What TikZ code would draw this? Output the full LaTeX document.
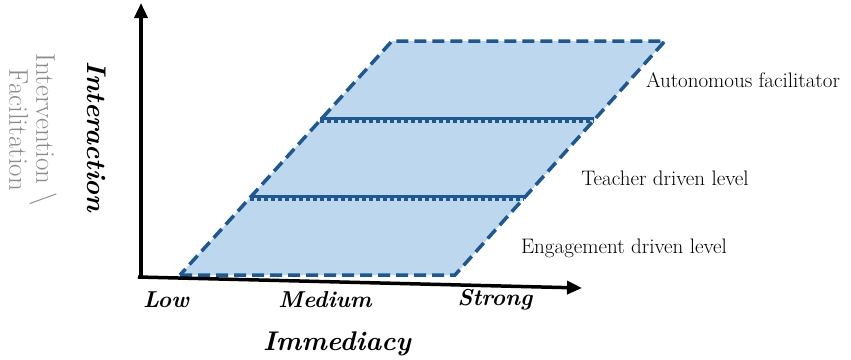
\documentclass[tikz,border=0pt]{standalone}
\usetikzlibrary{arrows.meta}
\definecolor{pfill}{RGB}{189,215,238}
\definecolor{pline}{RGB}{31,88,142}
\definecolor{gtext}{RGB}{140,140,140}
\begin{document}
\begin{tikzpicture}[x=1pt,y=-1pt,
  axis/.style={line width=3.5pt,-{Triangle[length=15pt,width=13pt]}},
  edge/.style={pline,line width=3.5pt,dash pattern=on 12pt off 6pt},
  lvl/.style={font=\fontsize{21}{23}\selectfont},
  tick/.style={font=\fontsize{23}{26}\selectfont\bfseries\itshape},
  title/.style={font=\fontsize{27}{30}\selectfont\bfseries\itshape}]
\useasboundingbox (0,0) rectangle (851,359);
\coordinate (BL) at (180,275);
\coordinate (BR) at (455,275);
\coordinate (TR) at (665,41);
\coordinate (TL) at (392,41);
\coordinate (L1) at (250,198);
\coordinate (R1) at (524,198);
\coordinate (L2) at (320,120);
\coordinate (R2) at (594,120);
\fill[pfill] (BL) -- (BR) -- (TR) -- (TL) -- cycle;
\draw[edge] (BL) -- (BR) -- (TR) -- (TL) -- cycle;
\foreach \a/\b in {L1/R1,L2/R2}{
  \draw[pline,line width=3pt] ([yshift=1.5pt]\a) -- ([yshift=1.5pt]\b);
  \draw[pline,line width=3pt,dash pattern=on 4pt off 3pt] ([yshift=-1.5pt]\a) -- ([yshift=-1.5pt]\b);
}
\coordinate (O) at (141,277);
\coordinate (YT) at (141,3);
\coordinate (XR) at (582,288);
\draw[axis,-] (141,279) -- (O);
\draw[axis] (O) -- (YT);
\draw[axis] ([xshift=-3pt]O) -- (XR);
\node[title,rotate=-90] (inter) at (97,137) {Interaction};
\node[rotate=-90,text=gtext,font=\fontsize{27}{27}\selectfont,align=center] (interv) at (33,130) {Intervention \textbackslash\\Facilitation};
\node[tick] (low) at (166,300) {Low};
\node[tick] (med) at (325,300) {Medium};
\node[tick] (str) at (495,300) {Strong};
\node[title] (imm) at (337,344) {Immediacy};
\node[lvl] (auto) at (743,80) {Autonomous facilitator};
\node[lvl] (teach) at (665,178) {Teacher driven level};
\node[lvl] (eng) at (624,248) {Engagement driven level};
\end{tikzpicture}
\end{document}
